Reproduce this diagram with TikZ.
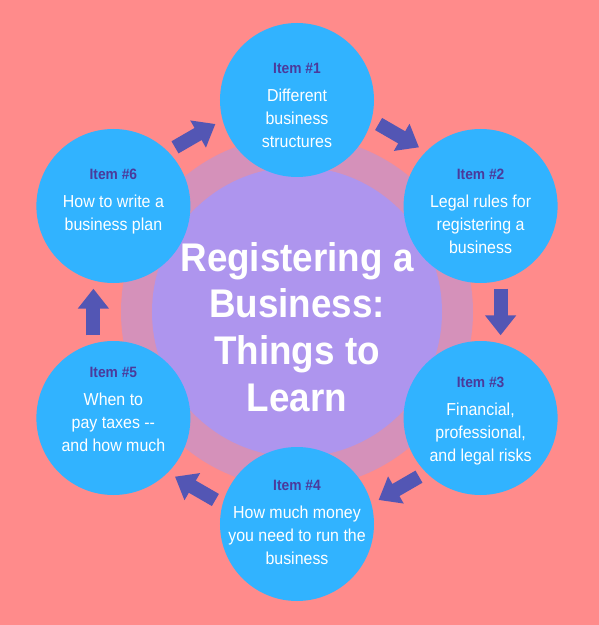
\documentclass[tikz,border=0pt]{standalone}
\usepackage{fontspec}
\setmainfont{Liberation Sans}[FakeStretch=0.92]
\usetikzlibrary{arrows.meta, calc}

\definecolor{bgsalmon}{RGB}{255,139,139}
\definecolor{ringpink}{RGB}{213,145,186}
\definecolor{corepurple}{RGB}{174,149,238}
\definecolor{itemblue}{RGB}{49,179,255}
\definecolor{arrowblue}{RGB}{83,86,180}
\definecolor{labelpurple}{RGB}{75,58,155}

\newcommand{\itemhead}[1]{{\fontsize{11.25}{13}\selectfont\bfseries\color{labelpurple}#1}}

\begin{document}
\begin{tikzpicture}[
  x=0.75pt, y=0.75pt,
  item/.style={circle, fill=itemblue, minimum size=115.5pt, inner sep=0pt},
  itemtext/.style={align=center, text=white, anchor=north, inner sep=0pt, yshift=27.75pt,
    font=\fontsize{13}{17.25}\selectfont},
  title/.style={align=center, text=white, inner sep=0pt,
    font=\fontsize{30}{35}\selectfont\bfseries},
  flow/.style={draw=arrowblue, line width=10.5pt, -{Triangle[width=22.5pt,length=15pt]}},
]
  \fill[bgsalmon] (-297,-313) rectangle (302,312);
  \useasboundingbox (-297,-313) rectangle (302,312);

  \fill[ringpink] (0,0) circle (176);
  \fill[corepurple] (0,0) circle (145);
  \node[title] (core) at (0,-15) {Registering a\\Business:\\Things to\\Learn};

  \node[item] (c1) at (90:212) {};
  \node[item] (c2) at (30:212) {};
  \node[item] (c3) at (-30:212) {};
  \node[item] (c4) at (-90:212) {};
  \node[item] (c5) at (-150:212) {};
  \node[item] (c6) at (150:212) {};

  \node[itemtext] (t1) at (c1) {\itemhead{Item \#1}\\[3.5pt]Different\\business\\structures};
  \node[itemtext] (t2) at (c2) {\itemhead{Item \#2}\\[3.5pt]Legal rules for\\registering a\\business};
  \node[itemtext, yshift=3pt] (t3) at (c3) {\itemhead{Item \#3}\\[3.5pt]Financial,\\professional,\\and legal risks};
  \node[itemtext, yshift=5pt] (t4) at (c4) {\itemhead{Item \#4}\\[3.5pt]How much money\\you need to run the\\business};
  \node[itemtext, yshift=10.5pt] (t5) at (c5) {\itemhead{Item \#5}\\[3.5pt]When to\\pay taxes -{}-\\and how much};
  \node[itemtext] (t6) at (c6) {\itemhead{Item \#6}\\[3.5pt]How to write a\\business plan};

  \draw[flow] ($(c1)!.39!(c2)+(60:20)$) -- ($(c1)!.61!(c2)+(60:20)$);
  \draw[flow] ($(c2)!.39!(c3)+(0:20)$) -- ($(c2)!.61!(c3)+(0:20)$);
  \draw[flow] ($(c3)!.39!(c4)+(-60:20)$) -- ($(c3)!.61!(c4)+(-60:20)$);
  \draw[flow] ($(c4)!.39!(c5)+(-120:20)$) -- ($(c4)!.61!(c5)+(-120:20)$);
  \draw[flow] ($(c5)!.39!(c6)+(180:20)$) -- ($(c5)!.61!(c6)+(180:20)$);
  \draw[flow] ($(c6)!.39!(c1)+(120:20)$) -- ($(c6)!.61!(c1)+(120:20)$);
\end{tikzpicture}
\end{document}
